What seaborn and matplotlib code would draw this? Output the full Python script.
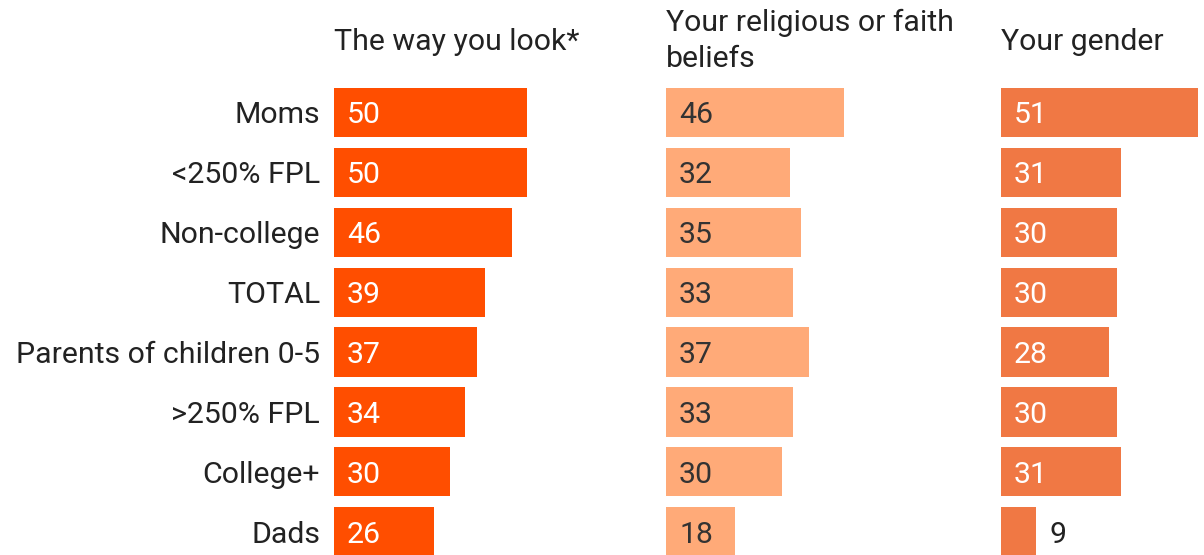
import matplotlib
matplotlib.use("Agg")
import matplotlib.pyplot as plt
import seaborn as sns
import pandas as pd

# Data
groups = ["Moms", "<250% FPL", "Non-college", "TOTAL", "Parents of children 0-5",
          ">250% FPL", "College+", "Dads"]
look = [50, 50, 46, 39, 37, 34, 30, 26]
religion = [46, 32, 35, 33, 37, 33, 30, 18]
gender = [51, 31, 30, 30, 28, 30, 31, 9]

titles = ["The way you look*", "Your religious or faith\nbeliefs", "Your gender"]
colors = ["#FF4E00", "#FFAA78", "#F07844"]
label_colors = ["white", "#333333", "white"]

sns.set_theme(style="white")
plt.rcParams["font.family"] = ["Roboto", "DejaVu Sans"]

W, H = 1204, 555
fs = 21.8
fig = plt.figure(figsize=(W / 100, H / 100), dpi=100)

px_per_unit = 3.86
xmax = 78
lefts = [334, 666, 1001]
top = 82.5
row_h = 59.9
ax_h = row_h * len(groups)

series = [look, religion, gender]
for i, vals in enumerate(series):
    df = pd.DataFrame({"group": groups, "value": vals})
    ax = fig.add_axes([lefts[i] / W, (H - top - ax_h) / H, xmax * px_per_unit / W, ax_h / H])
    sns.barplot(data=df, x="value", y="group", color=colors[i], width=0.82,
                saturation=1, ax=ax, orient="h", linewidth=0)
    ax.set_xlim(0, xmax)
    ax.set_ylim(len(groups) - 0.5, -0.5)
    ax.set_xlabel("")
    ax.set_ylabel("")
    ax.set_xticks([])
    sns.despine(ax=ax, left=True, bottom=True)
    if i == 0:
        ax.tick_params(axis="y", length=0, pad=10, labelsize=fs, labelcolor="#222222")
    else:
        ax.set_yticks([])
    for j, v in enumerate(vals):
        if v < 15:
            ax.text(v + 14 / px_per_unit, j, str(v), va="center_baseline", ha="left",
                    fontsize=fs, color="#222222")
        else:
            ax.text(13 / px_per_unit, j, str(v), va="center_baseline", ha="left",
                    fontsize=fs, color=label_colors[i])

# Panel titles
fig.text(334 / W, 1 - 50 / H, titles[0], fontsize=fs, color="#222222", va="baseline")
fig.text(666 / W, 1 - 31 / H, "Your religious or faith", fontsize=fs, color="#222222", va="baseline")
fig.text(666 / W, 1 - 67 / H, "beliefs", fontsize=fs, color="#222222", va="baseline")
fig.text(1001 / W, 1 - 50 / H, titles[2], fontsize=fs, color="#222222", va="baseline")

fig.savefig("out.png", dpi=100)
